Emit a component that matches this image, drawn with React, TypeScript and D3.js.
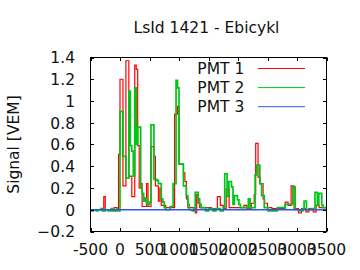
import React from "react";
import * as d3 from "d3";

const title = "LsId 1421 - Ebicykl";
const yLabel = "Signal [VEM]";
const seriesNames = ["PMT 1", "PMT 2", "PMT 3"];
const xTicks = [-500, 0, 500, 1000, 1500, 2000, 2500, 3000, 3500];
const yTicks = [-0.2, 0, 0.2, 0.4, 0.6, 0.8, 1, 1.2, 1.4];

// step change points: [time ns, signal VEM]
const pmt1: [number, number][] = [
  [-500, 0], [-275, 0.12], [-250, 0], [-100, 0.02], [-50, 0], [-25, 0.51],
  [0, 1.2], [50, 0.22], [100, 1.37], [150, 0.31], [200, 0.12], [250, 1.33],
  [275, 1.29], [300, 0.59], [325, 0.2], [350, 0.24], [375, 0.03], [450, 0.24],
  [475, 0.03], [525, 0.58], [575, 0.49], [600, 0.22], [650, 0.08], [675, 0.2],
  [700, 0.04], [775, 0.02], [925, 0.88], [975, 0.95], [1000, 0.42], [1075, 0.34],
  [1100, 0.26], [1125, 0.1], [1150, 0.02], [1275, -0.03], [1300, 0.14],
  [1325, 0.06], [1350, 0.02], [1500, 0.02], [1550, 0.01], [1650, 0.12],
  [1700, 0.04], [1750, 0.01], [1800, 0.19], [1850, 0.02], [2100, 0.04],
  [2150, 0.01], [2225, 0.06], [2275, 0.14], [2300, 0.61], [2340, 0.3],
  [2375, 0.24], [2425, 0.1], [2450, 0.06], [2500, 0.02], [2575, 0.01],
  [2800, 0.07], [2850, 0.04], [2900, 0.22], [2950, 0.01], [3025, -0.03],
  [3075, 0.01], [3150, -0.02], [3200, 0.01], [3275, -0.02], [3325, 0.04],
  [3375, 0.02],
];

const pmt2: [number, number][] = [
  [-500, 0], [-475, -0.01], [-450, 0], [-400, -0.01], [-375, 0], [-325, 0.01],
  [-300, -0.01], [-250, 0], [-200, -0.01], [-150, 0.01], [-125, -0.01],
  [-75, 0], [-50, -0.01], [0, 0.905], [50, 0.49], [100, 0.29], [150, 1.09],
  [175, 0.59], [200, 0.54], [225, 0.31], [250, 1.12], [275, 0.6], [300, 0.76],
  [350, 0.2], [375, 0.15], [400, 0.08], [425, 0.11], [450, 0.05], [500, 0.07],
  [525, 0.78], [575, 0.28], [625, 0.27], [650, 0.24], [700, 0.1], [725, 0.07],
  [750, 0.02], [775, 0], [850, 0.03], [900, 0.24], [950, 1.19], [975, 1.12],
  [1000, 0.42], [1075, 0.22], [1125, 0.13], [1150, 0.05], [1175, 0],
  [1225, -0.01], [1250, 0.02], [1275, 0.16], [1325, 0.1], [1350, 0.05],
  [1375, 0.02], [1450, -0.01], [1500, 0.01], [1575, -0.01], [1625, 0.01],
  [1700, -0.01], [1750, 0.02], [1775, 0.33], [1815, 0.12], [1845, 0.26],
  [1890, 0.21], [1915, 0.05], [1940, 0.13], [1990, 0.09], [2015, 0.05],
  [2040, 0.02], [2175, 0.1], [2205, 0.02], [2290, 0.32], [2320, 0.41],
  [2370, 0.24], [2400, 0.13], [2445, 0.02], [2510, -0.01], [2665, 0.02],
  [2800, 0.05], [2930, 0.21], [2970, 0], [3050, -0.01], [3100, 0.01],
  [3120, 0.08], [3160, 0], [3240, 0.01], [3305, 0.16], [3345, 0.04],
  [3370, 0.15], [3420, 0.04], [3445, 0.02],
];

const pmt3: [number, number][] = [
  [-500, 0], [3500, 0],
];

const colors = ["#ff0000", "#00c418", "#2f55ee"];
const widths = [1.2, 1.7, 1.4];

const W = 360;
const H = 270;
const L = 90.5;
const R = 326.5;
const T = 57.5;
const B = 231.5;
const font = "'DejaVu Sans', sans-serif";
const fs = 15.5;

export default function App() {
  const x = d3.scaleLinear().domain([-500, 3500]).range([L, R]);
  const y = d3.scaleLinear().domain([-0.2, 1.4]).range([B, T]);
  const line = d3
    .line<[number, number]>()
    .x((d) => x(d[0]))
    .y((d) => y(d[1]))
    .curve(d3.curveStepAfter);
  const withEnd = (s: [number, number][]) => {
    const last = s[s.length - 1];
    return last[0] < 3500 ? [...s, [3500, last[1]] as [number, number]] : s;
  };
  const all = [pmt1, pmt2, pmt3];
  const tick = 3.5;
  return (
    <svg
      width={W}
      height={H}
      style={{ position: "absolute", left: 0, top: 0, background: "#fff" }}
      fontFamily={font}
      fontSize={fs}
    >
      <defs>
        <clipPath id="plot">
          <rect x={L} y={T} width={R - L} height={B - T} />
        </clipPath>
      </defs>
      <text x={206.5} y={33} textAnchor="middle" fill="#111">
        {title}
      </text>
      <text
        transform={`translate(18.5,${(T + B) / 2}) rotate(-90)`}
        textAnchor="middle"
        fill="#111"
      >
        {yLabel}
      </text>
      <g clipPath="url(#plot)">
        {all.map((s, i) => (
          <path
            key={i}
            d={line(withEnd(s)) || ""}
            fill="none"
            stroke={colors[i]}
            strokeWidth={widths[i]}
          />
        ))}
      </g>
      {yTicks.map((t) => (
        <g key={"y" + t}>
          <line x1={L} x2={L + tick} y1={Math.round(y(t)) + 0.5} y2={Math.round(y(t)) + 0.5} stroke="#000" />
          <line x1={R} x2={R - tick} y1={Math.round(y(t)) + 0.5} y2={Math.round(y(t)) + 0.5} stroke="#000" />
          <text x={75} y={y(t) + 5.8} textAnchor="end" fill="#111">
            {d3.format("")(Math.round(t * 10) / 10)}
          </text>
        </g>
      ))}
      {xTicks.map((t) => (
        <g key={"x" + t}>
          <line x1={Math.round(x(t)) + 0.5} x2={Math.round(x(t)) + 0.5} y1={B} y2={B - tick} stroke="#000" />
          <line x1={Math.round(x(t)) + 0.5} x2={Math.round(x(t)) + 0.5} y1={T} y2={T + tick} stroke="#000" />
          <text x={x(t)} y={255} textAnchor="middle" fill="#111">
            {String(t)}
          </text>
        </g>
      ))}
      <rect x={L} y={T} width={R - L} height={B - T} fill="none" stroke="#000" strokeWidth={1} />
      {seriesNames.map((n, i) => (
        <g key={n}>
          <text x={244.3} y={73.8 + i * 19.1} textAnchor="end" fill="#111">
            {n}
          </text>
          <line
            x1={258}
            x2={305}
            y1={68.5 + i * 19.1}
            y2={68.5 + i * 19.1}
            stroke={colors[i]}
            strokeWidth={1}
          />
        </g>
      ))}
    </svg>
  );
}
